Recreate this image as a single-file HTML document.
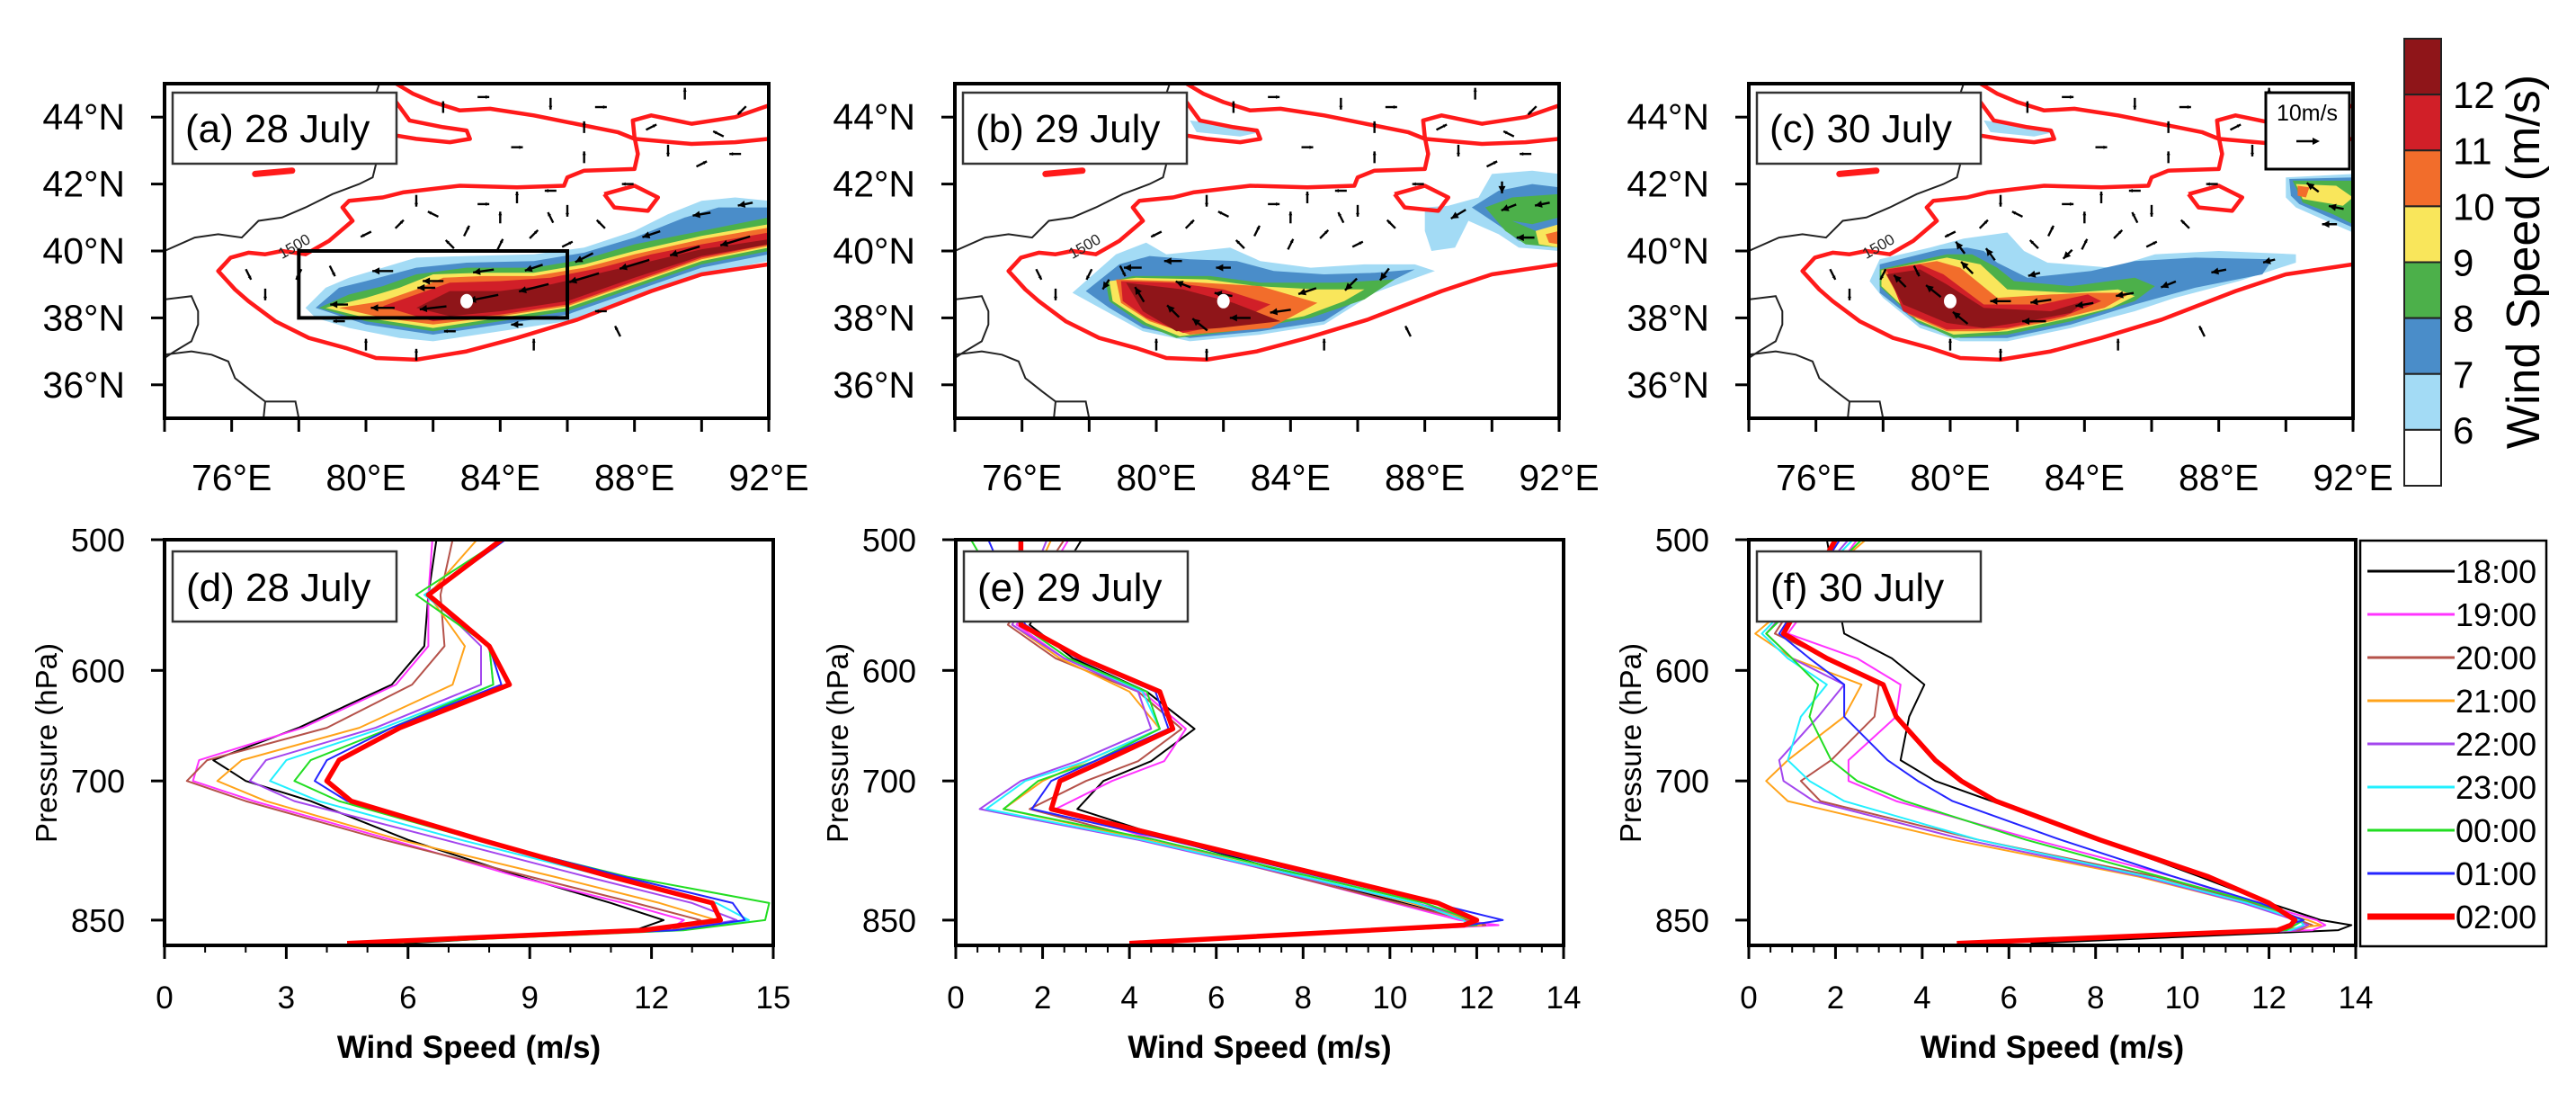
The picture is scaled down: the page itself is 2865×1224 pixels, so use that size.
<!DOCTYPE html>
<html><head><meta charset="utf-8"><style>
html,body{margin:0;padding:0;background:#fff;}
svg{display:block;font-family:"Liberation Sans",sans-serif;}
</style></head><body>
<svg id="fig" width="2865" height="1224" viewBox="0 0 2865 1224">
<rect x="0" y="0" width="2865" height="1224" fill="#fff"/>
<defs>
<clipPath id="clipA"><rect x="183" y="93" width="672" height="372"/></clipPath>
<clipPath id="clipB"><rect x="1062" y="93" width="672" height="372"/></clipPath>
<clipPath id="clipC"><rect x="1945" y="93" width="672" height="372"/></clipPath>
<clipPath id="clipD"><rect x="183" y="600" width="677" height="451"/></clipPath>
<clipPath id="clipE"><rect x="1063" y="600" width="676" height="451"/></clipPath>
<clipPath id="clipF"><rect x="1945" y="600" width="675" height="451"/></clipPath>
</defs>
</svg>
<script>
// ---------- DATA: wind-speed shading thresholds / colors ----------
const cbLabels = ["12","11","10","9","8","7","6"];
const shadeColors = ["#a3dbf5","#4a8dc9","#4cb04a","#f9e65b","#f26d2b","#d11f28","#8f1519"];
const cbColors = ["#8f1519","#d11f28","#f26d2b","#f9e65b","#4cb04a","#4a8dc9","#a3dbf5","#ffffff"];
const lonTicks = [76,80,84,88,92];
const latTicks = [36,38,40,42,44];

// terrain 1500 m contour (lon,lat), shared by all maps
const redMain = [[92,39.6],[90.0,39.3],[88.5,38.8],[86.3,37.95],[84.5,37.4],[83,37.0],[81.5,36.75],[80.3,36.8],[79.4,37.1],[78.3,37.4],[77.3,37.9],[76.5,38.5],[76.1,38.85],[75.6,39.4],[75.97,39.8],[76.5,39.95],[77.0,39.9],[77.5,40.0],[78.2,39.9],[78.9,40.3],[79.6,40.9],[79.3,41.3],[79.5,41.5],[80.5,41.6],[81.1,41.75],[82.8,41.95],[84.5,41.9],[85.9,41.95],[86.0,42.2],[86.5,42.4],[88.0,42.45],[88.1,42.9],[88.0,43.4],[87.95,43.9],[88.5,44.05],[89.7,43.8],[91.0,44.0],[92,44.35]];
const redTian = [[80.9,45.0],[81.4,44.7],[82.0,44.45],[82.8,44.2],[83.7,44.25],[85.0,44.05],[86.0,43.85],[87.5,43.55],[88.0,43.35],[89.7,43.2],[91.0,43.25],[92,43.35]];
const redLobe = [[80.9,44.45],[81.3,43.9],[82.3,43.7],[83.0,43.6],[83.1,43.35],[82.5,43.25],[81.5,43.35],[80.9,43.45]];
const redLoop = [[87.1,41.7],[88.0,41.95],[88.7,41.6],[88.4,41.2],[87.4,41.3],[87.1,41.7]];
const redDash = [[76.7,42.3],[77.8,42.4]];
// country borders
const border1 = [[74,40.0],[74.9,40.4],[75.6,40.5],[76.3,40.4],[76.8,40.9],[77.5,41.0],[78.2,41.3],[79.0,41.7],[79.8,42.0],[80.2,42.2],[80.3,42.6],[79.6,42.7],[79.5,43.2],[79.9,43.7],[80.1,44.1],[80.4,45.0]];
const border2 = [[74,38.55],[74.8,38.65],[75.0,38.2],[75.0,37.8],[74.8,37.3],[74.3,37.0],[74,36.8]];
const border3 = [[74,36.9],[74.8,37.0],[75.4,36.9],[75.9,36.7],[76.1,36.2],[76.6,35.8],[77.0,35.5],[77.9,35.5],[78.0,35.0]];
const border4 = [[77.0,35.5],[76.95,35.0]];

// shading polygons per panel (levels 6..12)
const shadeA = [
 [[78.2,38.3],[78.8,38.9],[79.5,39.2],[80.5,39.5],[81.5,39.8],[83,39.85],[85,39.9],[86.5,40.1],[88,40.6],[89,41.1],[90,41.5],[91,41.6],[92,41.5],[92,39.7],[90,39.3],[88,38.6],[86,37.9],[84,37.6],[82,37.3],[81,37.4],[79.5,37.7],[78.5,38.0]],
 [[78.5,38.3],[79.2,38.9],[80,39.1],[81.5,39.5],[83,39.65],[85,39.7],[86.5,39.95],[88,40.4],[89.5,41.0],[90.5,41.3],[92,41.3],[92,39.9],[90,39.5],[88,38.8],[86,38.1],[84,37.8],[82,37.5],[80,37.8]],
 [[78.6,38.3],[79.5,38.7],[80.5,38.95],[81.5,39.3],[83,39.5],[85,39.5],[86.5,39.75],[88,40.2],[90,40.6],[91.5,40.9],[92,41.0],[92,40.0],[90,39.6],[88,38.9],[86,38.2],[84,37.9],[82,37.6],[80,37.9]],
 [[78.8,38.3],[80,38.6],[81,38.9],[82,39.3],[83.5,39.35],[85,39.35],[86.5,39.6],[88,40.0],[90,40.45],[92,40.8],[92,40.1],[90,39.7],[88,39.0],[86,38.3],[84,38.0],[82,37.7],[80,38.0]],
 [[79.2,38.3],[80.5,38.5],[81.5,38.85],[82.3,39.2],[83.5,39.25],[85,39.25],[86.5,39.5],[88,39.9],[90,40.35],[92,40.7],[92,40.15],[90,39.75],[88,39.05],[86,38.35],[84,38.05],[82,37.8],[80.5,38.0]],
 [[80.5,38.35],[81.5,38.7],[82.5,39.05],[84,39.1],[85.5,39.2],[87,39.5],[88.5,39.9],[90,40.2],[92,40.55],[92,40.2],[90,39.8],[88,39.1],[86,38.4],[84,38.1],[82,37.9]],
 [[81.5,38.3],[82.5,38.8],[84,38.8],[85.5,39.0],[87,39.35],[88.5,39.7],[90,40.05],[91,40.2],[92,40.35],[92,40.2],[90,39.85],[88,39.2],[86,38.5],[84,38.2],[82.5,38.05]]
];
const shadeB = [
 [[77.5,38.75],[78.8,39.9],[79.7,40.25],[80.3,39.9],[82.2,40.1],[83.1,39.7],[84.6,39.5],[86.2,39.6],[87.7,39.6],[88.3,39.4],[86.5,38.75],[85.0,37.8],[83.1,37.5],[81.0,37.3],[79.6,37.6],[78.5,38.2]],
 [[77.9,38.8],[78.9,39.6],[79.8,39.85],[81,39.75],[82.4,39.7],[83.5,39.4],[85,39.3],[86.5,39.35],[87.7,39.45],[86.4,38.8],[85,37.9],[83.1,37.6],[81.0,37.4],[79.6,37.7],[78.6,38.3]],
 [[78.5,39.05],[79.3,39.25],[81.6,39.25],[83.1,39.05],[85.4,39.05],[87.1,39.15],[86.2,38.55],[84.6,38.0],[82.3,37.6],[80.6,37.4],[79.6,37.8],[78.6,38.5]],
 [[78.6,39.1],[79.4,39.2],[81.5,39.15],[83.0,38.95],[84.8,38.85],[86.2,38.85],[85.6,38.5],[84.4,38.05],[82.3,37.65],[80.7,37.45],[79.7,37.85],[78.7,38.5]],
 [[78.8,39.15],[80.5,39.1],[83.1,38.95],[84.8,38.45],[83.4,37.7],[81.0,37.5],[79.8,37.9],[78.95,38.45]],
 [[78.95,39.1],[80.5,39.05],[82,38.85],[83.4,38.4],[82.3,37.85],[80.8,37.55],[79.7,38.0],[79.0,38.5]],
 [[79.1,39.05],[80.8,38.85],[82.3,38.45],[83.7,37.9],[81.9,37.7],[80.6,37.6],[79.6,38.2]]
];
const shadeBx = [
 [[88.0,41.3],[88.7,41.35],[89.6,41.6],[90,42.3],[91.2,42.4],[92,42.3],[92,40.0],[90.8,40.1],[90.2,40.5],[89.3,40.9],[88.9,40.1],[88.2,40.0],[88.0,40.6]],
 [[89.4,41.3],[90.2,41.8],[91.2,42.0],[92,41.9],[92,40.1],[90.8,40.3],[90.3,40.7]],
 [[89.8,41.3],[90.6,41.6],[92,41.7],[92,41.0],[91.2,40.8],[90.6,40.9],[91.3,40.6],[92,40.6],[92,40.1],[91,40.2],[90.4,40.6]],
 [[91.3,40.6],[92,40.8],[92,40.1],[91.4,40.2]],
 [[91.6,40.5],[92,40.6],[92,40.2],[91.7,40.25]]
];
const shadeC = [
 [[77.9,39.75],[79.4,40.1],[80.4,40.37],[81.7,40.55],[82.2,40.0],[82.9,39.65],[84.8,39.5],[86.1,39.9],[88.0,40.0],[90.3,39.9],[90.3,39.65],[88.6,39.1],[86.7,38.6],[85.5,38.2],[83.6,37.7],[81.7,37.3],[80.3,37.3],[79.1,37.7],[78.0,38.6],[77.6,39.1]],
 [[77.9,39.6],[79.7,40.05],[80.5,40.1],[81.0,40.0],[81.4,39.65],[82.3,39.2],[84.2,39.4],[85.5,39.7],[87.3,39.8],[89.6,39.75],[89.3,39.3],[87.3,38.9],[85.5,38.4],[83.6,37.8],[81.7,37.4],[80.3,37.4],[79.1,37.8],[77.9,38.75]],
 [[77.9,39.45],[79.9,39.9],[80.65,39.9],[81.4,39.5],[81.9,39.1],[83.6,38.95],[85.5,39.2],[86.1,38.95],[85.5,38.5],[83.6,37.9],[81.7,37.5],[80.1,37.4],[79.0,37.9],[77.9,38.95]],
 [[77.95,39.42],[79.9,39.8],[80.9,39.6],[81.7,38.85],[83.6,38.75],[85.0,38.85],[85.5,38.65],[84.8,38.3],[83.6,38.0],[81.7,37.6],[80.1,37.5],[79.0,37.95],[77.95,38.95]],
 [[78.0,39.45],[79.6,39.7],[80.3,39.5],[81.4,38.6],[83.0,38.7],[84.2,38.75],[85.4,38.75],[84.6,38.3],[83.0,37.9],[81.4,37.6],[79.9,37.6],[78.75,38.1]],
 [[78.1,39.45],[79.1,39.6],[79.8,39.3],[81.0,38.4],[82.7,38.4],[84.1,38.7],[84.5,38.5],[83.4,38.05],[81.7,37.7],[79.9,37.65],[78.6,38.2]],
 [[78.1,39.3],[79.1,39.45],[79.9,39.0],[81.0,38.3],[83.0,38.2],[84.0,38.5],[83.6,38.15],[82.3,37.9],[81.0,37.7],[79.9,37.85],[78.6,38.4]]
];
const shadeCx = [
 [[90.0,42.2],[92,42.3],[92,40.55],[91.2,40.9],[90.3,41.3],[90.0,41.6]],
 [[90.1,42.15],[92,42.2],[92,40.7],[91.3,41.0],[90.4,41.4],[90.15,41.65]],
 [[90.2,42.1],[92,42.1],[92,40.8],[91.4,41.1],[90.5,41.45]],
 [[90.3,42.0],[91.5,41.95],[92,41.6],[91.7,41.35],[90.5,41.55]],
 [[90.35,41.95],[90.7,41.9],[90.6,41.6],[90.35,41.65]]
];
const shadeNorth = [[[81.0,43.9],[82.2,43.75],[83.1,43.55],[82.5,43.42],[81.2,43.55]]];

// wind vectors [lon, lat, u, v] (m/s)
const weakVec = [[80,40.5,-1,-0.5],[81,40.8,1,1],[82,41.1,-1,0.5],[83,40.6,0.5,1],[84,41.0,0,1.3],[85,40.5,1,1],[86,40.2,1,0.5],[87,40.8,-1,1],[84.5,41.6,0,1],[81.5,41.5,0,-1],[85.5,41.8,-1,0],[86.5,43.7,0,1],[83.5,44.6,1,0],[85.5,44.4,0,-1],[87,44.3,1,0],[89,43.0,0,-1],[90,42.6,1,0.5],[91,42.9,-1,0],[89.5,44.7,0,1],[91.2,44.2,-1,-1],[80,43.7,0,1],[82.3,44.3,0,1],[77,38.7,0,-1],[76.5,39.3,0.5,-1],[80,37.2,0,1],[81.5,36.9,0,0.8],[83.5,41.4,1,0],[86,41.2,0,-1.2],[87.8,42.0,-1,0],[82.5,40.2,-1,1],[84,40.2,0.5,1],[85.5,41.0,-0.5,1],[88.5,43.7,1,0.5],[90.5,43.5,-1,0.5],[84.5,43.1,1,0],[86.5,42.8,0,1],[79,39.4,0.5,-1],[78,39.3,-0.5,-1],[87.5,37.6,-0.5,1],[85,37.2,0,1]];
const vecA = [[91,40.3,-10,-3],[89.5,40.0,-10,-3],[88,39.6,-10,-3],[86.5,39.2,-10,-3],[85,38.9,-10,-2.5],[83.5,38.6,-10,-2],[82,38.3,-9,-1],[80.5,38.3,-8,0],[79.2,38.4,-6,0],[80.5,39.4,-7,0],[82,39.1,-7,0],[83.5,39.4,-7,-1],[85,39.5,-6,-2],[86.5,39.8,-6,-3],[88.5,40.5,-6,-2],[90,41.1,-6,-1],[91.3,41.4,-5,-1],[81.8,38.9,-6,0],[84.5,37.8,-4,0],[87,38.2,-3,0],[82.5,37.6,-3,0],[79.2,37.9,-3,0]];
const vecB = [[79.5,38.7,-3,5],[80.5,38.2,-4,4],[81.3,37.8,-5,4],[80.8,39.0,-5,2],[82,38.7,-6,1],[82.5,38.0,-7,0],[83.7,38.2,-7,-1],[84.5,38.8,-6,-2],[85.8,39.0,-4,-4],[86.8,39.3,-3,-4],[79.3,39.5,-6,0],[80.5,39.7,-6,0],[82,39.5,-5,0],[78.5,39.0,-2,-3],[89,41.1,-5,-3],[90.5,41.3,-5,-2],[91.5,41.4,-5,-1],[91,40.4,-6,0],[90.3,41.9,0,-4]];
const vecC = [[78.5,39.1,-4,4],[79.5,38.8,-5,4],[80.3,38.0,-5,4],[80.5,39.5,-4,4],[81.5,38.5,-7,0],[82.5,37.9,-8,0],[82.7,38.5,-7,-1],[84,38.4,-6,-1],[85.2,38.7,-6,-1],[86.5,39.0,-5,-2],[88,39.4,-5,-1],[89.5,39.7,-4,-1],[81.2,39.9,-3,4],[80.3,40.1,-3,4],[82.5,39.3,-4,-1],[83.5,39.9,-3,-3],[90.8,41.9,-4,3],[91.5,41.3,-5,1],[91.3,40.8,-5,0]];

// ---------- DATA: vertical wind profiles ----------
const seriesNames = ["18:00","19:00","20:00","21:00","22:00","23:00","00:00","01:00","02:00"];
const seriesColors = ["#000000","#ff33ff","#b5524a","#ffa31a","#a346ee","#22f0ff","#22dd22","#2424ff","#ff0000"];
const levelsD = [500,540,580,612,650,680,700,720,760,800,830,850,862,878];
const windD = [
 [6.7,6.5,6.4,5.6,3.3,1.2,2.0,3.6,6.0,8.8,11.0,12.3,11.6,5.9],
 [6.6,6.5,6.5,5.7,3.4,0.85,0.7,2.2,5.6,8.7,11.3,12.8,12.4,5.2],
 [7.1,6.8,6.9,6.1,4.0,1.05,0.55,2.0,5.4,9.0,11.6,13.2,12.5,5.0],
 [7.7,6.5,7.4,7.1,4.8,1.9,1.3,2.5,5.8,9.6,12.2,13.6,12.6,5.0],
 [8.3,6.5,7.8,7.8,5.2,2.5,2.1,3.2,6.9,10.4,13.0,14.1,12.6,5.0],
 [8.4,6.4,8.0,8.1,5.4,3.0,2.6,3.8,7.3,10.9,13.6,14.4,12.8,5.0],
 [8.3,6.2,8.0,8.1,5.6,3.6,3.2,4.3,7.7,11.4,14.9,14.8,12.8,5.4],
 [8.4,6.5,8.0,8.3,5.6,4.0,3.7,4.5,7.8,11.3,14.0,14.3,12.6,5.0],
 [8.3,6.5,8.0,8.5,5.8,4.3,4.0,4.6,7.8,11.0,13.5,13.7,11.8,4.5]
];
const levelsE = [500,563,590,618,651,681,700,728,760,800,830,850,856,878];
const windE = [
 [2.9,1.7,2.7,4.4,5.5,4.5,3.4,2.8,5.0,8.0,10.3,11.8,12.0,4.0],
 [2.6,1.4,2.5,4.3,5.3,4.8,3.6,2.3,4.6,7.8,10.1,11.6,12.5,4.0],
 [2.5,1.2,2.3,4.2,5.2,4.2,3.0,1.7,4.4,7.8,10.2,11.8,12.2,4.0],
 [2.2,1.3,2.4,4.0,4.7,3.0,2.0,1.1,4.4,8.0,10.5,11.9,12.1,4.0],
 [2.1,1.3,2.5,4.2,4.5,2.8,1.5,0.55,4.2,7.9,10.6,12.0,12.0,4.0],
 [1.5,1.5,2.6,4.3,4.7,3.0,1.6,0.7,4.3,8.0,10.6,11.7,11.8,4.0],
 [0.35,1.5,2.6,4.4,4.7,3.2,1.9,1.1,4.6,8.2,10.8,11.9,12.0,4.0],
 [0.75,1.6,2.8,4.6,4.9,3.2,2.2,1.75,4.9,8.4,11.0,12.6,11.8,4.0],
 [1.5,1.5,2.9,4.7,5.0,3.4,2.4,2.2,5.1,8.6,11.1,12.0,11.7,4.0]
];
const levelsF = [500,570,590,612,640,680,700,720,760,800,830,850,856,862,878];
const windF = [
 [1.8,2.2,3.3,4.05,3.7,3.5,4.3,5.6,8.1,10.4,12.0,13.2,13.9,13.6,6.5],
 [2.5,0.9,2.5,3.5,3.4,2.3,2.3,3.4,6.6,9.8,11.7,13.1,13.3,13.0,5.0],
 [2.0,0.6,1.8,3.0,2.9,1.9,1.2,1.65,5.3,9.4,11.6,12.7,13.0,12.7,5.0],
 [2.7,0.15,1.0,2.6,2.2,0.9,0.4,0.9,4.7,9.0,11.4,12.9,13.2,12.2,5.0],
 [2.3,0.4,1.0,2.2,1.6,0.7,0.8,1.5,5.0,9.1,11.4,12.6,12.9,12.6,5.0],
 [2.4,0.3,0.9,1.8,1.2,0.9,1.4,2.2,5.3,9.2,11.5,12.7,12.8,12.5,5.0],
 [2.6,0.4,1.0,1.6,1.4,1.9,2.5,3.6,6.4,9.5,11.7,12.8,12.6,12.4,5.2],
 [2.1,0.7,1.4,2.2,2.2,3.2,3.9,4.7,7.2,9.8,11.8,12.8,12.4,12.3,4.9],
 [2.0,0.8,1.8,3.1,3.4,4.3,4.9,5.7,8.1,10.6,12.0,12.6,12.5,12.2,4.8]
];
const pTicks = [500,600,700,850];
const xTicksD = [0,3,6,9,12,15];
const xTicksEF = [0,2,4,6,8,10,12,14];

// ---------- DRAWING ----------
const svg = document.getElementById('fig');
const NS = svg.namespaceURI;
function el(tag, attrs, parent){
  const e = document.createElementNS(NS, tag);
  for (const k in attrs) e.setAttribute(k, attrs[k]);
  (parent||svg).appendChild(e);
  return e;
}
function txt(str, attrs, parent){ const t = el('text', attrs, parent); t.textContent = str; return t; }

const MW = 672, MH = 372, MY = 93;
function mapPanel(x0, clipId, shades, extras, vecs, dotLon, label, key){
  const lx = lon => x0 + (lon-74)/18*MW;
  const ly = lat => MY + (45-lat)/10*MH;
  const pts = arr => arr.map(p => lx(p[0]).toFixed(1)+','+ly(p[1]).toFixed(1)).join(' ');
  const g = el('g', {'clip-path':'url(#'+clipId+')'});
  
  
  const groups = [shades].concat(extras);
  groups.forEach(set => set.forEach((poly,i) => {
    const p = el('polygon', {points: pts(poly), fill: shadeColors[i]}, g);
    
    
  }));
  [border1,border2,border3,border4].forEach(b => {
    const p = el('polyline', {points: pts(b), fill:'none', stroke:'#222', 'stroke-width':2}, g);
    
    
  });
  [redMain,redTian,redLobe,redLoop].forEach(c => {
    const p = el('polyline', {points: pts(c), fill:'none', stroke:'#ff1a1a', 'stroke-width':4.5, 'stroke-linejoin':'round'}, g);
    
    
  });
  const dsh = el('polyline', {points: pts(redDash), fill:'none', stroke:'#ff1a1a', 'stroke-width':7, 'stroke-linecap':'round'}, g);
  
  
  const cl1 = txt('1500', {x: lx(77.5), y: ly(39.75), 'font-size':17, fill:'#222', transform:'rotate(-30 '+lx(77.5)+' '+ly(39.75)+')'}, g);
  
  
  // vectors
  vecs.concat(weakVec).forEach(v => {
    const sx = lx(v[0]), sy = ly(v[1]);
    let dx = v[2]*3.3, dy = -v[3]*3.3;
    let len = Math.hypot(dx,dy) || 1;
    if (len < 13){ dx = dx/len*13; dy = dy/len*13; }
    const strong = Math.hypot(v[2],v[3]) > 3.5;
    len = Math.hypot(dx,dy);
    const ex = sx+dx/2, ey = sy+dy/2, bx = sx-dx/2, by = sy-dy/2;
    const ln = el('line', {x1:bx, y1:by, x2:ex, y2:ey, stroke:'#000', 'stroke-width':2.4}, g);
    
    
    const ux = dx/len, uy = dy/len, h = strong ? 8 : 4;
    const hp = [[ex,ey],[ex-ux*h-uy*h*0.5, ey-uy*h+ux*h*0.5],[ex-ux*h+uy*h*0.5, ey-uy*h-ux*h*0.5]];
    const hd = el('polygon', {points: hp.map(q=>q[0].toFixed(1)+','+q[1].toFixed(1)).join(' '), fill:'#000'}, g);
    
    
  });
  const dot = el('ellipse', {cx: lx(dotLon), cy: ly(38.5), rx:7, ry:8, fill:'#fff'}, g);
  
  
  // frame
  const fr = el('rect', {x:x0, y:MY, width:MW, height:MH, fill:'none', stroke:'#000', 'stroke-width':4});
  
  
  for (let lon=74; lon<=92; lon+=2){
    const t = el('line', {x1:lx(lon), y1:MY+MH, x2:lx(lon), y2:MY+MH+15, stroke:'#000', 'stroke-width':3});
    
    
  }
  lonTicks.forEach(lon => {
    const t = txt(lon+'°E', {x:lx(lon), y:545, 'font-size':41, 'text-anchor':'middle', fill:'#000'});
    
    
  });
  latTicks.forEach(lat => {
    const t = el('line', {x1:x0-15, y1:ly(lat), x2:x0, y2:ly(lat), stroke:'#000', 'stroke-width':3});
    
    
    const l = txt(lat+'°N', {x:x0-44, y:ly(lat)+14, 'font-size':41, 'text-anchor':'end', fill:'#000'});
    
    
  });
  const bx = el('rect', {x:x0+9, y:103, width:249, height:79, fill:'#fff', stroke:'#333', 'stroke-width':2.5});
  
  
  const lt = txt(label, {x:x0+23, y:158, 'font-size':44, fill:'#000'});
  
  
  return {lx, ly};
}

const A = mapPanel(183, 'clipA', shadeA, [], vecA, 83, '(a) 28 July', 'a');
const rect = el('rect', {x:A.lx(78), y:A.ly(40), width:A.lx(86)-A.lx(78), height:A.ly(38)-A.ly(40), fill:'none', stroke:'#000', 'stroke-width':4});


mapPanel(1062, 'clipB', shadeB, [shadeBx, shadeNorth], vecB, 82, '(b) 29 July', 'b');
mapPanel(1945, 'clipC', shadeC, [shadeCx, shadeNorth], vecC, 80, '(c) 30 July', 'c');

// reference vector box in (c)
const rb = el('rect', {x:2520, y:103, width:93, height:85, fill:'#fff', stroke:'#000', 'stroke-width':3});


const rt = txt('10m/s', {x:2566, y:134, 'font-size':25, 'text-anchor':'middle', fill:'#000'});


const ra = el('line', {x1:2554, y1:157, x2:2574, y2:157, stroke:'#000', 'stroke-width':2.5});


const rh = el('polygon', {points:'2580,157 2572,153 2572,161', fill:'#000'});



// colorbar
const cbTop = 43, cbH = 497, cbX = 2674, cbW = 41;
cbColors.forEach((c,i) => {
  const r = el('rect', {x:cbX, y:cbTop+i*cbH/8, width:cbW, height:cbH/8, fill:c, stroke:'#222', 'stroke-width':2});
  
  
});
cbLabels.forEach((s,i) => {
  const t = txt(s, {x:2728, y:cbTop+(i+1)*cbH/8+15, 'font-size':42, fill:'#000'});
  
  
});
const cbt = txt('Wind Speed (m/s)', {x:2824, y:291, 'font-size':52, 'text-anchor':'middle', fill:'#000', transform:'rotate(-90 2824 291)'});



// profile panels
const PT = 600, PB = 1051, PK = 797;
function profilePanel(x0, W, xmax, ticks, levels, data, clipId, label, key){
  const px = v => x0 + v/xmax*W;
  const py = p => PT + PK*Math.log(p/500);
  const g = el('g', {'clip-path':'url(#'+clipId+')'});
  
  
  data.forEach((s,i) => {
    const pts = s.map((v,j) => px(v).toFixed(1)+','+py(levels[j]).toFixed(1)).join(' ');
    const pl = el('polyline', {points:pts, fill:'none', stroke:seriesColors[i], 'stroke-width': i===8 ? 5.5 : 2, 'stroke-linejoin':'round'}, g);
    
    
  });
  const fr = el('rect', {x:x0, y:PT, width:W, height:PB-PT, fill:'none', stroke:'#000', 'stroke-width':4});
  
  
  for (let v=0; v<=xmax; v+= (xmax===15?1:0.5)){
    const major = ticks.indexOf(v) >= 0;
    const t = el('line', {x1:px(v), y1:PB, x2:px(v), y2:PB+(major?15:8), stroke:'#000', 'stroke-width':major?3:2});
    
    
  }
  ticks.forEach(v => {
    const t = txt(String(v), {x:px(v), y:1121, 'font-size':35, 'text-anchor':'middle', fill:'#000'});
    
    
  });
  pTicks.forEach(p => {
    const t = el('line', {x1:x0-15, y1:py(p), x2:x0, y2:py(p), stroke:'#000', 'stroke-width':3});
    
    
    const l = txt(String(p), {x:x0-44, y:py(p)+13, 'font-size':36, 'text-anchor':'end', fill:'#000'});
    
    
  });
  const xt = txt('Wind Speed (m/s)', {x:x0+W/2, y:1176, 'font-size':35, 'font-weight':'bold', 'text-anchor':'middle', fill:'#000'});
  
  
  const yt = txt('Pressure (hPa)', {x:x0-120, y:826, 'font-size':33, 'text-anchor':'middle', fill:'#000', transform:'rotate(-90 '+(x0-120)+' 826)'});
  
  
  const bx = el('rect', {x:x0+9, y:613, width:249, height:78, fill:'#fff', stroke:'#333', 'stroke-width':2.5});
  
  
  const lt = txt(label, {x:x0+24, y:668, 'font-size':44, fill:'#000'});
  
  
}
profilePanel(183, 677, 15, xTicksD, levelsD, windD, 'clipD', '(d) 28 July', 'd');
profilePanel(1063, 676, 14, xTicksEF, levelsE, windE, 'clipE', '(e) 29 July', 'e');
profilePanel(1945, 675, 14, xTicksEF, levelsF, windF, 'clipF', '(f) 30 July', 'f');

// legend
const lg = el('rect', {x:2625, y:601, width:207, height:451, fill:'#fff', stroke:'#000', 'stroke-width':2.5});


seriesNames.forEach((n,i) => {
  const y = 635 + i*48;
  const l = el('line', {x1:2633, y1:y, x2:2730, y2:y, stroke:seriesColors[i], 'stroke-width': i===8?7:3});
  
  
  const t = txt(n, {x:2731, y:y+13, 'font-size':36, fill:'#000'});
  
  
});
</script>
</body></html>
